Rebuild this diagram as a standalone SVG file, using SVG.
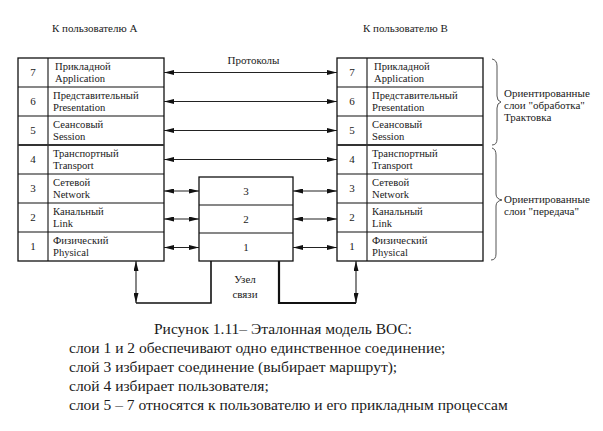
<svg xmlns="http://www.w3.org/2000/svg" width="603" height="431" viewBox="0 0 603 431">
<style>
text{font-family:'Liberation Serif','Times New Roman',serif;fill:#1a1a1a;font-size:11px}
.t{font-size:10.6px}
.n{text-anchor:middle}
.c{font-size:15.5px}
.box{fill:#fff;stroke:#111;stroke-width:1.3}
.ln{stroke:#111;stroke-width:1.1;fill:none}
.thick{stroke:#333;stroke-width:2.2}
.ar{stroke:#222;stroke-width:1.1;fill:none;marker-start:url(#ah);marker-end:url(#ah)}
.wire{fill:none;stroke:#111}
.br{stroke:#555;stroke-width:1;fill:none}
</style>
<defs>
<marker id="ah" markerUnits="userSpaceOnUse" markerWidth="10" markerHeight="5" refX="10" refY="2.5" orient="auto-start-reverse">
<path d="M0,0 L10,2.5 L0,5 z" fill="#111"/>
</marker>
</defs>
<rect width="603" height="431" fill="#fff"/>
<text x="52" y="32">К пользователю А</text>
<text x="363" y="32">К пользователю В</text>
<text x="227.5" y="63.5">Протоколы</text>

<g id="stackA">
<rect class="box" x="18" y="58" width="146" height="203"/>
<line class="ln" x1="48" y1="58" x2="48" y2="261"/>
<line class="ln" x1="18" y1="87" x2="164" y2="87"/>
<line class="ln" x1="18" y1="116" x2="164" y2="116"/>
<line class="thick" x1="18" y1="145" x2="164" y2="145"/>
<line class="ln" x1="18" y1="174" x2="164" y2="174"/>
<line class="ln" x1="18" y1="203" x2="164" y2="203"/>
<line class="ln" x1="18" y1="232" x2="164" y2="232"/>
<text class="n" x="33" y="76">7</text>
<text class="n" x="33" y="105">6</text>
<text class="n" x="33" y="134">5</text>
<text class="n" x="33" y="163">4</text>
<text class="n" x="33" y="192">3</text>
<text class="n" x="33" y="221">2</text>
<text class="n" x="33" y="250">1</text>
<text class="t" x="55" y="70">Прикладной</text><text class="t" x="55" y="82">Application</text>
<text class="t" x="53" y="98.5">Представительный</text><text class="t" x="53" y="110.5">Presentation</text>
<text class="t" x="53" y="127.5">Сеансовый</text><text class="t" x="53" y="139.5">Session</text>
<text class="t" x="53" y="156.5">Транспортный</text><text class="t" x="53" y="168.5">Transport</text>
<text class="t" x="53" y="185.5">Сетевой</text><text class="t" x="53" y="197.5">Network</text>
<text class="t" x="53" y="214.5">Канальный</text><text class="t" x="53" y="226.5">Link</text>
<text class="t" x="53" y="243.5">Физический</text><text class="t" x="53" y="255.5">Physical</text>
</g>

<g id="stackB">
<rect class="box" x="337" y="58" width="146" height="203"/>
<line class="ln" x1="367" y1="58" x2="367" y2="261"/>
<line class="ln" x1="337" y1="87" x2="483" y2="87"/>
<line class="ln" x1="337" y1="116" x2="483" y2="116"/>
<line class="thick" x1="337" y1="145" x2="483" y2="145"/>
<line class="ln" x1="337" y1="174" x2="483" y2="174"/>
<line class="ln" x1="337" y1="203" x2="483" y2="203"/>
<line class="ln" x1="337" y1="232" x2="483" y2="232"/>
<text class="n" x="352" y="76">7</text>
<text class="n" x="352" y="105">6</text>
<text class="n" x="352" y="134">5</text>
<text class="n" x="352" y="163">4</text>
<text class="n" x="352" y="192">3</text>
<text class="n" x="352" y="221">2</text>
<text class="n" x="352" y="250">1</text>
<text class="t" x="374" y="70">Прикладной</text><text class="t" x="374" y="82">Application</text>
<text class="t" x="372" y="98.5">Представительный</text><text class="t" x="372" y="110.5">Presentation</text>
<text class="t" x="372" y="127.5">Сеансовый</text><text class="t" x="372" y="139.5">Session</text>
<text class="t" x="372" y="156.5">Транспортный</text><text class="t" x="372" y="168.5">Transport</text>
<text class="t" x="372" y="185.5">Сетевой</text><text class="t" x="372" y="197.5">Network</text>
<text class="t" x="372" y="214.5">Канальный</text><text class="t" x="372" y="226.5">Link</text>
<text class="t" x="372" y="243.5">Физический</text><text class="t" x="372" y="255.5">Physical</text>
</g>

<g id="relay">
<rect class="box" x="199" y="177" width="94" height="84" stroke-width="1.1"/>
<line class="ln" x1="199" y1="205" x2="293" y2="205"/>
<line class="ln" x1="199" y1="233" x2="293" y2="233"/>
<text class="n" x="246" y="195">3</text>
<text class="n" x="246" y="223">2</text>
<text class="n" x="246" y="251">1</text>
<text class="n" x="245" y="283">Узел</text>
<text class="n" x="245" y="298">связи</text>
</g>

<g id="connectors">
<line class="ar" x1="164" y1="72.5" x2="337" y2="72.5"/>
<line class="ar" x1="164" y1="101.5" x2="337" y2="101.5" stroke="#555"/>
<line class="ar" x1="164" y1="130.5" x2="337" y2="130.5"/>
<line class="ar" x1="164" y1="159.5" x2="337" y2="159.5"/>
<line class="ar" x1="164" y1="191" x2="199" y2="191"/>
<line class="ar" x1="164" y1="219" x2="199" y2="219"/>
<line class="ar" x1="164" y1="247.5" x2="199" y2="247.5"/>
<line class="ar" x1="293" y1="191" x2="337" y2="191"/>
<line class="ar" x1="293" y1="219" x2="337" y2="219"/>
<line class="ar" x1="293" y1="247.5" x2="337" y2="247.5"/>
<line class="ar" x1="136" y1="261" x2="136" y2="303" stroke-width="1.6"/>
<polyline class="wire" points="136,303 211,303 211,261" stroke-width="1.6"/>
<polyline class="wire" points="279,261 279,303 356,303" stroke-width="2.2"/>
<line class="ar" x1="356" y1="303" x2="356" y2="261" stroke-width="1.6"/>
</g>

<g id="braces">
<path class="br" d="M492,59 Q497,60 497,66 L497,96 Q497,101 501,102 Q497,103 497,108 L497,139 Q497,145 492,145"/>
<path class="br" d="M492,148 Q496,149 496,155 L496,194 Q496,199 502,200 Q496,201 496,206 L496,254 Q496,260 491,260"/>
</g>
<text x="504" y="97">Ориентированные</text>
<text x="504" y="109">слои "обработка"</text>
<text x="504" y="121">Трактовка</text>
<text x="504" y="203">Ориентированные</text>
<text x="504" y="215">слои "передача"</text>

<g id="caption">
<text class="c" x="154" y="334">Рисунок 1.11– Эталонная модель ВОС:</text>
<text class="c" x="69" y="353">слои 1 и 2 обеспечивают одно единственное соединение;</text>
<text class="c" x="69" y="372">слой 3 избирает соединение (выбирает маршрут);</text>
<text class="c" x="69" y="391">слой 4 избирает пользователя;</text>
<text class="c" x="69" y="410">слои 5 – 7 относятся к пользователю и его прикладным процессам</text>
</g>
</svg>
